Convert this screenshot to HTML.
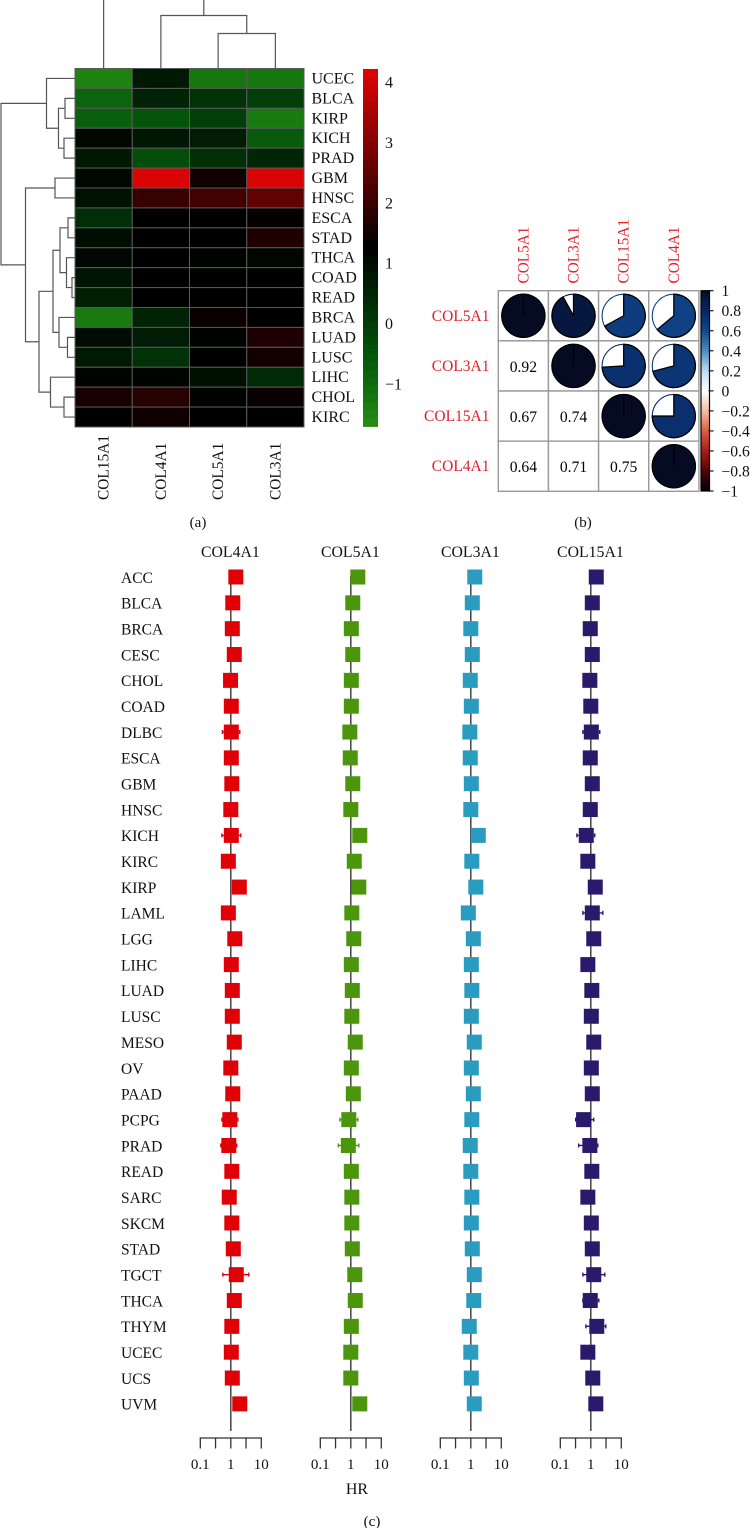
<!DOCTYPE html>
<html lang="en">
<head>
<meta charset="utf-8">
<title>Collagen gene expression heatmap, correlation matrix and hazard ratios</title>
<style>
html,body{margin:0;padding:0;background:#fff;width:750px;height:1528px;overflow:hidden}
svg{display:block}
text{font-family:"Liberation Serif",serif;fill:#111}
</style>
</head>
<body>
<svg id="fig" xmlns="http://www.w3.org/2000/svg" width="750" height="1528" viewBox="0 0 750 1528"></svg>
<script>
/* ---------- panel (a) data ---------- */
const heatRows = ['UCEC','BLCA','KIRP','KICH','PRAD','GBM','HNSC','ESCA','STAD','THCA','COAD','READ','BRCA','LUAD','LUSC','LIHC','CHOL','KIRC'];
const heatCols = ['COL15A1','COL4A1','COL5A1','COL3A1'];
const heatCol15A1 = [-1.48,-0.86,-0.75,1.11,0.73,1.08,0.88,0.29,0.97,1.11,0.82,0.61,-1.31,1.02,0.73,1.2,1.55,1.26];
const heatCol4A1 = [0.73,0.52,-0.51,0.76,-0.36,4.15,2.0,1.26,1.26,1.26,1.26,1.26,0.52,0.67,0.23,1.17,1.76,1.47];
const heatCol5A1 = [-1.25,0.23,-0.07,0.67,0.29,1.47,2.12,1.26,1.26,1.2,1.26,1.26,1.41,1.2,1.26,0.91,1.2,1.26];
const heatCol3A1 = [-1.25,-0.07,-1.31,-0.66,0.46,4.15,2.53,1.35,1.67,1.11,1.26,1.26,1.26,1.67,1.5,0.38,1.41,1.26];
const heatTicks = [4,3,2,1,0,-1];
const rowTree = [74,[28.5,0,[16.5,[10,1,2],[11,3,4]]],[49.5,[20,5,6],[36,[22,[15,[7,7,8],[8.5,9,[3,10,11]]],[16,12,[7.5,13,14]]],[24.5,15,[11,16,17]]]]];
const colTree = [80,0,[53,1,[35,2,3]]];

/* ---------- panel (b) data ---------- */
const corrGenes = ['COL5A1','COL3A1','COL15A1','COL4A1'];
const corrCol5A1 = [1,0.92,0.67,0.64];
const corrCol3A1 = [0.92,1,0.74,0.71];
const corrCol15A1 = [0.67,0.74,1,0.75];
const corrCol4A1 = [0.64,0.71,0.75,1];
const corrTicks = [1,0.8,0.6,0.4,0.2,0,-0.2,-0.4,-0.6,-0.8,-1];

/* ---------- panel (c) data ---------- */
const cancers = ['ACC','BLCA','BRCA','CESC','CHOL','COAD','DLBC','ESCA','GBM','HNSC','KICH','KIRC','KIRP','LAML','LGG','LIHC','LUAD','LUSC','MESO','OV','PAAD','PCPG','PRAD','READ','SARC','SKCM','STAD','TGCT','THCA','THYM','UCEC','UCS','UVM'];
const hrCol4A1 = [1.46,1.16,1.12,1.30,0.98,1.04,1.04,1.04,1.08,1,1.04,0.83,1.90,0.83,1.35,1.04,1.12,1.12,1.30,1,1.16,0.93,0.86,1.08,0.89,1.08,1.21,1.51,1.30,1.08,1.04,1.12,1.97];
const hrCol5A1 = [1.70,1.16,1.04,1.16,1.04,1.04,0.93,0.96,1.16,1,1.97,1.30,1.83,1.08,1.25,1.04,1.12,1.08,1.40,1.04,1.21,0.86,0.83,1.04,1.08,1.08,1.12,1.35,1.40,1.04,1,1,1.97];
const hrCol3A1 = [1.35,1.12,1,1.12,0.96,1.04,0.93,0.96,1.04,1,1.76,1.08,1.46,0.83,1.21,1.04,1.08,1.04,1.30,1.04,1.21,1.08,0.96,1,1.08,1.04,1.12,1.30,1.25,0.89,1,1.04,1.30];
const hrCol15A1 = [1.51,1.12,0.96,1.12,0.93,1,1.04,0.96,1.12,0.96,0.71,0.80,1.40,1.12,1.25,0.80,1.08,1.04,1.25,1.04,1.12,0.58,0.93,1.08,0.80,1.04,1.12,1.25,0.96,1.57,0.80,1.16,1.46];
const ciCol4A1 = {DLBC:[0.53,1.97],KICH:[0.51,2.13],PCPG:[0.51,1.70],PRAD:[0.47,1.57],TGCT:[0.55,3.89]};
const ciCol5A1 = {PCPG:[0.44,1.70],PRAD:[0.39,1.83]};
const ciCol3A1 = {};
const ciCol15A1 = {KICH:[0.35,1.35],DLBC:[0.55,1.97],LAML:[0.55,2.48],PCPG:[0.32,1.25],PRAD:[0.40,1.70],TGCT:[0.55,2.88],THCA:[0.55,1.83],THYM:[0.69,3.10]};
const hrTicks = [0.1,0.316,1,3.16,10];
const hrTickLabels = ['0.1','','1','','10'];

/* ---------- helpers ---------- */
const NS = 'http://www.w3.org/2000/svg';
const fig = document.getElementById('fig');
function mk(tag, attrs, parent) {
  const el = document.createElementNS(NS, tag);
  for (const k in attrs) el.setAttribute(k, attrs[k]);
  (parent || fig).appendChild(el);
  return el;
}
function label(str, x, y, size, anchor, color, rot) {
  const a = {x:x, y:y, 'font-size':size, 'text-anchor':anchor || 'start'};
  if (color) a.style = 'fill:' + color;
  if (rot) a.transform = 'rotate(' + rot + ' ' + x + ' ' + y + ')';
  const el = mk('text', a);
  el.textContent = str;
  return el;
}

/* ---------- panel (a): heatmap ---------- */
const hmX = 75, hmY = 68.5, hmW = 229, hmH = 358.5;
const colW = hmW / heatCols.length, rowH = hmH / heatRows.length;
const heatSeries = [heatCol15A1, heatCol4A1, heatCol5A1, heatCol3A1];
const heatMid = 1.26, heatSpan = 2.95;
function heatColor(v) {
  const t = Math.min(1, Math.abs(v - heatMid) / heatSpan);
  if (v >= heatMid) return 'rgb(' + Math.round(224 * t) + ',' + Math.round(4 * t) + ',' + Math.round(4 * t) + ')';
  return 'rgb(' + Math.round(42 * Math.pow(t, 4)) + ',' + Math.round(140 * t) + ',' + Math.round(18 * t) + ')';
}
const rowCenter = i => hmY + rowH * (i + 0.5);
const colCenter = j => hmX + colW * (j + 0.5);

const heatGroup = mk('g', {});


heatSeries.forEach((series, j) => {
  series.forEach((v, i) => {
    const cell = mk('rect', {x:hmX + colW * j, y:hmY + rowH * i, width:colW, height:rowH, fill:heatColor(v), stroke:'#5a5a5a', 'stroke-width':1}, heatGroup);
    
    
  });
});
heatRows.forEach((r, i) => {
  const t = label(r, 311.5, rowCenter(i) + 5, 16);
  
  
});
heatCols.forEach((c, j) => {
  const t = label(c, colCenter(j) + 5, 500, 15.4, 'start', null, -90);
  
  
});

function drawRowTree(node, g) {
  if (typeof node === 'number') return rowCenter(node);
  const a = drawRowTree(node[1], g), b = drawRowTree(node[2], g);
  const ax = typeof node[1] === 'number' ? hmX : hmX - node[1][0];
  const bx = typeof node[2] === 'number' ? hmX : hmX - node[2][0];
  const x = hmX - node[0];
  mk('path', {d:'M' + ax + ' ' + a + 'H' + x + 'V' + b + 'H' + bx, fill:'none', stroke:'#555', 'stroke-width':1.2}, g);
  return (a + b) / 2;
}
function drawColTree(node, g) {
  if (typeof node === 'number') return colCenter(node);
  const a = drawColTree(node[1], g), b = drawColTree(node[2], g);
  const ay = typeof node[1] === 'number' ? hmY : hmY - node[1][0];
  const by = typeof node[2] === 'number' ? hmY : hmY - node[2][0];
  const y = hmY - node[0];
  mk('path', {d:'M' + a + ' ' + ay + 'V' + y + 'H' + b + 'V' + by, fill:'none', stroke:'#555', 'stroke-width':1.2}, g);
  return (a + b) / 2;
}
const rowDendro = mk('g', {});


drawRowTree(rowTree, rowDendro);
const colDendro = mk('g', {});


drawColTree(colTree, colDendro);

const hBarX = 363, hBarW = 15, hBarTop = 69, hBarBottom = 426.5;
const heatScaleY = v => 82 + (4 - v) * 60.4;
const hBar = mk('g', {});


const hSteps = 44;
for (let s = 0; s < hSteps; s++) {
  const y0 = hBarTop + (hBarBottom - hBarTop) * s / hSteps;
  const v = 4 - (y0 + (hBarBottom - hBarTop) / hSteps / 2 - 82) / 60.4;
  mk('rect', {x:hBarX, y:y0, width:hBarW, height:(hBarBottom - hBarTop) / hSteps + 0.4, fill:heatColor(v)}, hBar);
}
heatTicks.forEach(v => {
  const t = label(v < 0 ? '\u2212' + Math.abs(v) : String(v), 385, heatScaleY(v) + 5.5, 16);
  
  
});
const capA = label('(a)', 198, 527, 15, 'middle');



/* ---------- panel (b): correlation matrix ---------- */
const cX = 498.3, cY = 290.7, cS = 50.15;
const corrSeries = [corrCol5A1, corrCol3A1, corrCol15A1, corrCol4A1];
const corrStops = [[-1,[0,0,0]],[-0.8,[80,6,10]],[-0.6,[165,30,25]],[-0.4,[215,95,65]],[-0.2,[246,190,160]],[0,[255,255,255]],[0.2,[190,218,236]],[0.4,[75,140,190]],[0.6,[16,72,140]],[0.8,[9,38,100]],[0.92,[6,24,64]],[1,[5,11,34]]];
function corrColor(v) {
  for (let i = 1; i < corrStops.length; i++) {
    if (v <= corrStops[i][0]) {
      const a = corrStops[i - 1], b = corrStops[i];
      const t = (v - a[0]) / (b[0] - a[0]);
      return 'rgb(' + a[1].map((c, k) => Math.round(c + (b[1][k] - c) * t)).join(',') + ')';
    }
  }
  return 'rgb(5,11,34)';
}
const corrGroup = mk('g', {});


corrGenes.forEach((g, i) => {
  const rowLab = label(g, 489.5, cY + cS * (i + 0.5) + 5, 15.5, 'end', '#e0202a');
  
  
  const colLab = label(g, cX + cS * (i + 0.5) + 5, 283.5, 15.3, 'start', '#e0202a', -90);
  
  
  corrGenes.forEach((h, j) => {
    const v = corrSeries[j][i];
    const x0 = cX + cS * j, y0 = cY + cS * i;
    const cell = mk('rect', {x:x0, y:y0, width:cS, height:cS, fill:'#fff', stroke:'#9a9a9a', 'stroke-width':1.4}, corrGroup);
    
    
    const cx = x0 + cS / 2, cy = y0 + cS / 2, r = 21.6;
    if (j < i) {
      const t = label(v.toFixed(2), cx, cy + 6, 15.6, 'middle', '#000');
      
      
    } else {
      const col = corrColor(v);
      mk('circle', {cx:cx, cy:cy, r:r, fill:'#fff', stroke:col, 'stroke-width':1.1}, corrGroup);
      const ang = Math.min(v, 0.99999) * 2 * Math.PI;
      const ex = cx + r * Math.sin(ang), ey = cy - r * Math.cos(ang);
      const pie = mk('path', {d:'M' + cx + ' ' + cy + 'V' + (cy - r) + 'A' + r + ' ' + r + ' 0 ' + (v > 0.5 ? 1 : 0) + ' 1 ' + ex + ' ' + ey + 'Z', fill:col, stroke:'#000', 'stroke-width':1.3}, corrGroup);
      
      
    }
  });
});
const cbX = 701, cbW = 8.5, cbTop = 290.7, cbBottom = 491;
const corrScaleY = v => cbTop + (1 - v) / 2 * (cbBottom - cbTop);
const cBar = mk('g', {});


for (let s = 0; s < 100; s++) {
  const v = 1 - (s + 0.5) / 50;
  mk('rect', {x:cbX, y:corrScaleY(1 - s / 50), width:cbW, height:(cbBottom - cbTop) / 100 + 0.4, fill:corrColor(v)}, cBar);
}
mk('rect', {x:cbX, y:cbTop, width:cbW, height:cbBottom - cbTop, fill:'none', stroke:'#000', 'stroke-width':1.2}, cBar);
corrTicks.forEach(v => {
  const y = corrScaleY(v);
  mk('line', {x1:cbX + cbW - 1, x2:cbX + cbW + 4, y1:y, y2:y, stroke:'#000', 'stroke-width':1.1}, cBar);
  const t = label(v < 0 ? '\u2212' + Math.abs(v) : String(v), 721.5, y + 5.5, 15.6);
  
  
});
const capB = label('(b)', 583, 527, 15, 'middle');



/* ---------- panel (c): forest plots ---------- */
const panels = [
  {name:'COL4A1', cx:230.8, hr:hrCol4A1, ci:ciCol4A1, color:'#e00008'},
  {name:'COL5A1', cx:350.8, hr:hrCol5A1, ci:ciCol5A1, color:'#4b960c'},
  {name:'COL3A1', cx:470.8, hr:hrCol3A1, ci:ciCol3A1, color:'#2a9cc0'},
  {name:'COL15A1', cx:590.8, hr:hrCol15A1, ci:ciCol15A1, color:'#2b1a6c'}
];
const rowY = i => 577 + i * 25.84;
const decade = 30.5, boxSize = 15, axisY = 1438;
cancers.forEach((c, i) => {
  const t = label(c, 121, rowY(i) + 5.8, 15.5);
  
  
});
panels.forEach(p => {
  const xOf = v => p.cx + Math.log10(v) * decade;
  const key = p.name.toLowerCase();
  const g = mk('g', {});
  
  

  const head = label(p.name, p.cx - 0.4, 557, 15.8, 'middle');
  
  

  const ref = mk('line', {x1:xOf(1), x2:xOf(1), y1:576, y2:1431, stroke:'#444', 'stroke-width':1.5}, g);
  
  

  cancers.forEach((c, i) => {
    const y = rowY(i);
    if (p.ci[c]) {
      const lo = xOf(p.ci[c][0]), hi = xOf(p.ci[c][1]);
      const w = mk('path', {d:'M' + lo + ' ' + (y - 2) + 'V' + (y + 2) + 'M' + lo + ' ' + y + 'H' + hi + 'M' + hi + ' ' + (y - 2) + 'V' + (y + 2), fill:'none', stroke:p.color, 'stroke-width':1.4}, g);
      
      
    }
    const b = mk('rect', {x:xOf(p.hr[i]) - boxSize / 2, y:y - boxSize / 2, width:boxSize, height:boxSize, fill:p.color}, g);
    
    
  });

  const axis = mk('g', {}, g);
  
  
  mk('line', {x1:xOf(hrTicks[0]) - 0.6, x2:xOf(hrTicks[4]) + 0.6, y1:axisY, y2:axisY, stroke:'#333', 'stroke-width':1.3}, axis);
  hrTicks.forEach((v, i) => {
    mk('line', {x1:xOf(v), x2:xOf(v), y1:axisY, y2:axisY + 10.5, stroke:'#333', 'stroke-width':1.3}, axis);
    if (hrTickLabels[i]) {
      const t = label(hrTickLabels[i], xOf(v), 1469, 15, 'middle');
      
      
    }
  });
});
const hrTitle = label('HR', 357, 1494, 16, 'middle');


const capC = label('(c)', 372, 1526, 15, 'middle');


</script>
</body>
</html>
